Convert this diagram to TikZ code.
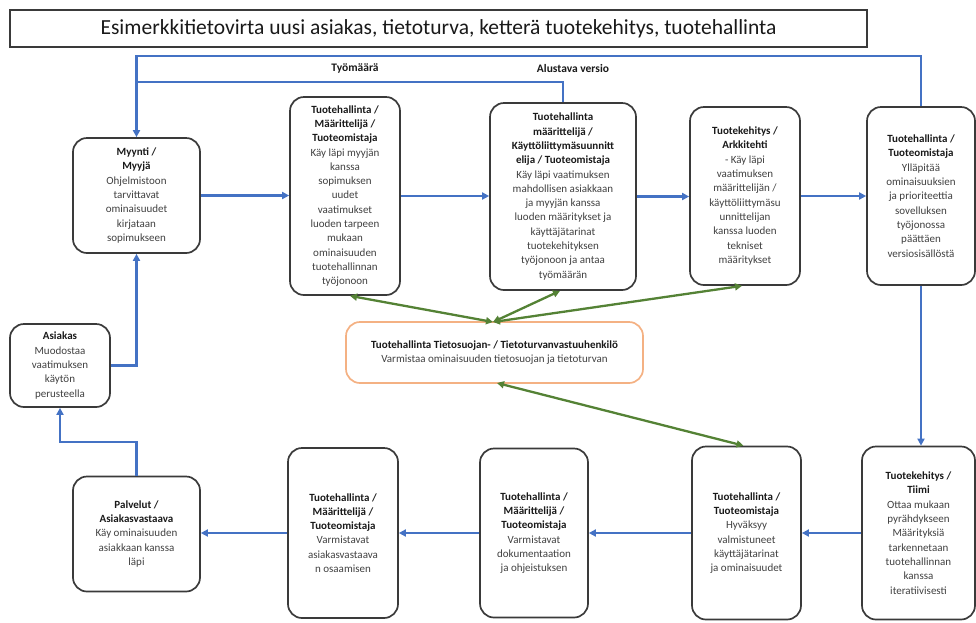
\documentclass[tikz,border=0pt]{standalone}
\usepackage{fontspec}
\setmainfont{Carlito}
\usetikzlibrary{arrows.meta}
\definecolor{boxline}{HTML}{3A3A3A}
\definecolor{txt}{HTML}{404040}
\definecolor{flowblue}{HTML}{4472C4}
\definecolor{linkgreen}{HTML}{548235}
\definecolor{privacy}{HTML}{F4B183}
\newcommand\hd[1]{{\bfseries\color{black!90}#1}}
\tikzset{
  box/.style={draw=boxline, line width=1.7pt, rounded corners=14pt, align=center,
    inner sep=0pt, font=\fontsize{11}{14.3}\selectfont, text=txt},
  flow/.style={draw=flowblue, line width=2.5pt, -{Triangle[length=7pt,width=7pt]}},
  flowplain/.style={draw=flowblue, line width=2.5pt},
  link/.style={draw=linkgreen, line width=2.3pt,
    {Triangle[length=7pt,width=7pt]}-{Triangle[length=7pt,width=7pt]}},
  tag/.style={font=\fontsize{11.5}{13}\selectfont\bfseries, text=black!90}
}
\begin{document}
\begin{tikzpicture}[x=1pt,y=-1pt]
\useasboundingbox (0,0) rectangle (976,622);

% title
\node[draw=boxline, line width=1.7pt, minimum width=857pt, minimum height=37pt,
      inner sep=0pt, font=\fontsize{21.5}{23}\selectfont, text=black!90]
  (title) at (438.5,28.5) {Esimerkkitietovirta uusi asiakas, tietoturva, ketterä tuotekehitys, tuotehallinta};

% upper row
\node[box, minimum width=127pt, minimum height=115pt] (myynti) at (136.5,195.5)
  {\hd{Myynti /}\\\hd{Myyjä}\\Ohjelmistoon\\tarvittavat\\ominaisuudet\\kirjataan\\sopimukseen};
\node[box, minimum width=110pt, minimum height=198pt] (b2) at (345,196)
  {\hd{Tuotehallinta /}\\\hd{Määrittelijä /}\\\hd{Tuoteomistaja}\\Käy läpi myyjän\\kanssa\\sopimuksen\\uudet\\vaatimukset\\luoden tarpeen\\mukaan\\ominaisuuden\\tuotehallinnan\\työjonoon};
\node[box, minimum width=146pt, minimum height=187pt] (b3) at (563,196.5)
  {\hd{Tuotehallinta}\\\hd{määrittelijä /}\\\hd{Käyttöliittymäsuunnitt}\\\hd{elija / Tuoteomistaja}\\Käy läpi vaatimuksen\\mahdollisen asiakkaan\\ja myyjän kanssa\\luoden määritykset ja\\käyttäjätarinat\\tuotekehityksen\\työjonoon ja antaa\\työmäärän};
\node[box, minimum width=110pt, minimum height=178pt] (b4) at (745,196)
  {\hd{Tuotekehitys /}\\\hd{Arkkitehti}\\- Käy läpi\\vaatimuksen\\määrittelijän /\\käyttöliittymäsu\\unnittelijan\\kanssa luoden\\tekniset\\määritykset};
\node[box, minimum width=108pt, minimum height=178pt] (b5) at (921,196)
  {\hd{Tuotehallinta /}\\\hd{Tuoteomistaja}\\Ylläpitää\\ominaisuuksien\\ja prioriteettia\\sovelluksen\\työjonossa\\päättäen\\versiosisällöstä};

% middle
\node[box, minimum width=100pt, minimum height=83pt] (asiakas) at (60,365.5)
  {\hd{Asiakas}\\Muodostaa\\vaatimuksen\\käytön\\perusteella};
\node[box, draw=privacy, minimum width=297pt, minimum height=61pt] (privacy) at (494.5,352.5)
  {\hd{Tuotehallinta Tietosuojan- / Tietoturvanvastuuhenkilö}\\Varmistaa ominaisuuden tietosuojan ja tietoturvan};

% lower row
\node[box, minimum width=127pt, minimum height=115pt] (palvelut) at (136.5,534)
  {\hd{Palvelut /}\\\hd{Asiakasvastaava}\\Käy ominaisuuden\\asiakkaan kanssa\\läpi};
\node[box, minimum width=110pt, minimum height=170pt] (b7) at (343,533)
  {\hd{Tuotehallinta /}\\\hd{Määrittelijä /}\\\hd{Tuoteomistaja}\\Varmistavat\\asiakasvastaava\\n osaamisen};
\node[box, minimum width=108pt, minimum height=169pt] (b8) at (534,533)
  {\hd{Tuotehallinta /}\\\hd{Määrittelijä /}\\\hd{Tuoteomistaja}\\Varmistavat\\dokumentaation\\ja ohjeistuksen};
\node[box, minimum width=109pt, minimum height=173pt] (b9) at (746.5,533)
  {\hd{Tuotehallinta /}\\\hd{Tuoteomistaja}\\Hyväksyy\\valmistuneet\\käyttäjätarinat\\ja ominaisuudet};
\node[box, minimum width=113pt, minimum height=173pt] (b10) at (918.5,533)
  {\hd{Tuotekehitys /}\\\hd{Tiimi}\\Ottaa mukaan\\pyrähdykseen\\Määrityksiä\\tarkennetaan\\tuotehallinnan\\kanssa\\iteratiivisesti};

% return lines over the top
\coordinate (top1) at (136.5,56);
\coordinate (top2) at (136.5,82);
\draw[flowplain] (b3.north) |- (top2);
\draw[flow] (b5.north) |- (top1) -- (myynti.north);
\node[tag] (tyomaara) at (355,69) {Työmäärä};
\node[tag] (alustava) at (573,69) {Alustava versio};

% main flow
\draw[flow] (myynti.east) -- (myynti.east -| b2.west);
\draw[flow] (b2.east) -- (b2.east -| b3.west);
\draw[flow] (b3.east) -- (b3.east -| b4.west);
\draw[flow] (b4.east) -- (b4.east -| b5.west);
\draw[flow] (b5.south) -- (b5.south |- b10.north);
\draw[flow] (b10.west) -- (b10.west -| b9.east);
\draw[flow] (b9.west) -- (b9.west -| b8.east);
\draw[flow] (b8.west) -- (b8.west -| b7.east);
\draw[flow] (b7.west) -- (b7.west -| palvelut.east);
\coordinate (bend) at (60,442);
\draw[flow] (palvelut.north) |- (bend) -- (asiakas.south);
\draw[flow] (asiakas.east) -| (myynti.south);

% privacy reviews
\coordinate (ptop) at (493,322);
\coordinate (pbot) at (497,383);
\draw[link] (ptop) -- ([xshift=5pt]b2.south);
\draw[link] (ptop) -- ([xshift=-3pt]b3.south);
\draw[link] (ptop) -- ([xshift=-3pt]b4.south);
\draw[link] (pbot) -- ([xshift=-3pt]b9.north);
\end{tikzpicture}
\end{document}
